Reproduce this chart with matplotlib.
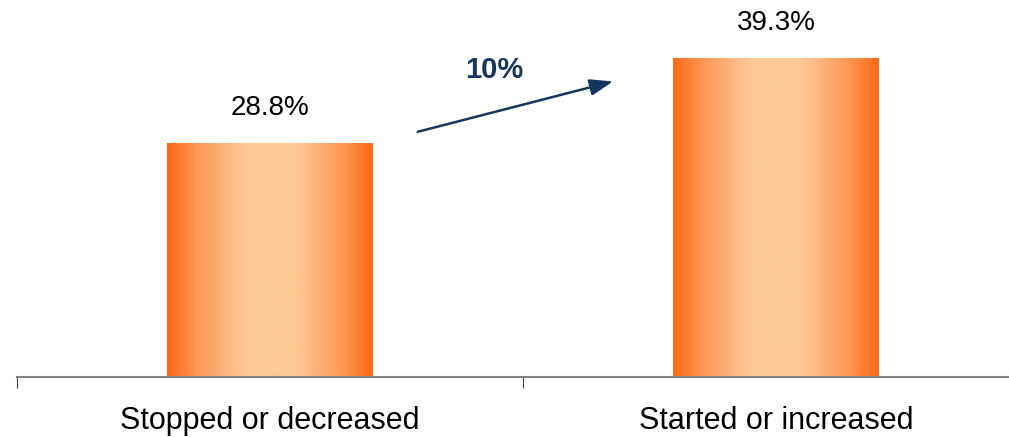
import numpy as np
import matplotlib
matplotlib.use("Agg")
import matplotlib.pyplot as plt
from matplotlib.colors import LinearSegmentedColormap

categories = ["Stopped or decreased", "Started or increased"]
values = [28.8, 39.3]
value_labels = ["28.8%", "39.3%"]
change_label = "10%"

plt.rcParams['font.family'] = ['Liberation Sans', 'DejaVu Sans']

W, H = 1009, 437
fig = plt.figure(figsize=(W / 100, H / 100), dpi=100)
ppu = 8.12  # pixels per percent
ymax = 45
ax_bottom = (H - 377) / H
ax_h = ymax * ppu / H
ax = fig.add_axes([17 / W, ax_bottom, 1012 / W, ax_h])
ax.set_xlim(-0.5, 1.5)
ax.set_ylim(0, ymax)

dark = np.array([255, 104, 20]) / 255
light = np.array([253, 201, 152]) / 255
mid = dark * 0.5 + light * 0.5
cmap = LinearSegmentedColormap.from_list(
    "bar", [(0.0, dark), (0.15, mid), (0.38, light), (0.62, light),
            (0.85, mid), (1.0, dark)])
grad = np.linspace(0, 1, 256).reshape(1, -1)

x = np.arange(len(categories))
width = 0.407
bars = ax.bar(x, values, width=width, color='none', edgecolor='none', zorder=2)
for b in bars:
    x0, y0 = b.get_x(), b.get_y()
    im = ax.imshow(grad, cmap=cmap, aspect='auto', interpolation='bicubic',
                   extent=[x0, x0 + b.get_width(), y0, y0 + b.get_height()], zorder=2)
    im.set_clip_path(b)

for xi, v, lab in zip(x, values, value_labels):
    ax.text(xi, v + 4.3, lab, ha='center', va='center', fontsize=20, color='black')

navy = '#14365f'
ax.annotate('', xy=(0.678, 36.4), xytext=(0.292, 30.2),
            arrowprops=dict(arrowstyle='-|>,head_length=1.4,head_width=0.5',
                            color=navy, lw=1.8, shrinkA=0, shrinkB=0))
ax.text(0.443, 37.8, change_label, ha='center', va='center', fontsize=21,
        fontweight='bold', color=navy)

for s in ['top', 'right', 'left']:
    ax.spines[s].set_visible(False)
ax.spines['bottom'].set_color('#808080')
ax.spines['bottom'].set_linewidth(1.5)
ax.set_yticks([])
ax.set_xticks(x)
ax.set_xticklabels(categories, fontsize=22)
ax.tick_params(axis='x', which='major', length=0, pad=21)
ax.set_xticks([-0.5, 0.5, 1.5], minor=True)
ax.tick_params(axis='x', which='minor', length=8, width=0.8, color='#404040')

fig.savefig("out.png", dpi=100)
